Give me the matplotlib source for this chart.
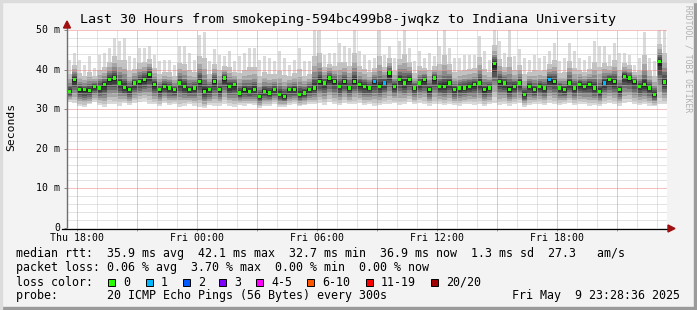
import matplotlib
matplotlib.use("Agg")
import matplotlib.pyplot as plt
from matplotlib.patches import Rectangle, Polygon
import numpy as np

# ---------------- data (ms), 15-minute steps over 30 hours ----------------
start_hour = 17 + 28 / 60 + 36 / 3600      # Thu 17:28:36 (hours since Thu 00:00)
step_hours = 0.25

median_ms = [
    34.5, 37.5, 34.9, 34.9, 34.7, 35.8, 35.4, 36.2, 37.5, 37.9, 36.6, 35.5, 34.9, 36.6, 37.0, 37.5, 38.7, 36.2, 34.9, 35.8,
    35.4, 34.9, 36.6, 35.8, 34.9, 35.4, 37.0, 34.5, 34.9, 37.0, 34.9, 37.9, 35.8, 36.2, 34.1, 34.9, 34.5, 34.9, 33.2, 34.5,
    34.1, 34.9, 33.7, 33.2, 34.9, 34.9, 33.7, 34.1, 34.9, 35.4, 37.0, 36.6, 37.9, 37.0, 35.8, 37.0, 35.4, 37.0, 36.2, 35.8,
    35.4, 37.0, 35.8, 36.6, 39.1, 35.8, 37.5, 36.6, 37.5, 35.4, 36.6, 37.5, 34.9, 37.9, 35.8, 35.8, 36.6, 34.9, 35.4, 35.4,
    35.8, 36.2, 36.6, 34.9, 35.4, 41.5, 37.0, 36.6, 34.9, 35.8, 36.6, 33.7, 35.8, 34.9, 35.8, 35.4, 37.5, 37.0, 35.4, 34.9,
    36.6, 35.4, 36.2, 35.8, 36.2, 35.4, 34.5, 36.6, 37.5, 37.0, 34.9, 38.3, 37.9, 37.0, 35.8, 36.2, 35.4, 33.7, 42.1, 36.9,
]
max_ms = [
    42.5, 44.2, 42.5, 41.2, 43.4, 40.4, 43.8, 44.2, 45.5, 48.0, 47.1, 48.0, 43.4, 43.0, 45.5, 45.5, 45.9, 43.8, 42.1, 42.5,
    42.5, 41.2, 45.9, 45.9, 44.2, 42.5, 48.7, 49.6, 42.1, 45.1, 43.8, 43.4, 44.6, 42.1, 43.4, 44.2, 45.5, 45.5, 42.5, 43.4,
    43.0, 42.1, 44.6, 43.0, 41.2, 42.5, 45.5, 42.1, 42.1, 50.0, 50.0, 43.8, 44.2, 44.2, 46.7, 45.9, 45.5, 50.0, 44.6, 43.8,
    42.5, 43.0, 49.9, 43.8, 45.9, 43.0, 47.1, 50.0, 45.5, 42.1, 44.6, 43.0, 44.2, 43.4, 45.9, 50.0, 45.5, 43.0, 43.0, 43.8,
    43.8, 43.8, 48.4, 44.6, 42.5, 50.0, 47.1, 44.2, 50.0, 43.4, 45.1, 43.0, 42.5, 43.8, 43.0, 43.4, 44.6, 46.7, 42.1, 43.0,
    46.7, 44.6, 43.0, 42.5, 43.4, 47.1, 45.9, 45.9, 43.8, 46.7, 44.2, 44.2, 43.8, 41.2, 43.0, 49.6, 43.0, 42.1, 50.0, 50.0,
]
min_ms = [
    31.9, 31.5, 30.8, 30.5, 31.2, 31.8, 31.0, 30.6, 31.4, 31.2, 30.9, 31.6, 31.0, 31.5, 31.8, 32.0, 31.4, 31.2, 30.8, 31.5,
    31.0, 31.2, 30.5, 30.8, 31.4, 30.9, 30.6, 30.2, 31.0, 30.7, 30.9, 31.3, 30.8, 30.5, 31.1, 30.9, 31.2, 31.0, 30.4, 30.8,
    30.9, 31.2, 30.5, 30.6, 31.0, 31.3, 30.7, 31.0, 31.4, 31.2, 31.5, 31.0, 31.8, 31.3, 31.0, 31.6, 31.2, 31.4, 31.6, 31.0,
    31.2, 30.8, 31.0, 31.4, 31.2, 31.6, 31.0, 31.3, 31.7, 31.2, 31.5, 31.3, 30.9, 31.2, 31.4, 31.0, 31.3, 31.1, 30.9, 31.3,
    31.4, 31.0, 31.2, 30.8, 31.3, 31.6, 31.0, 31.4, 30.9, 31.2, 31.5, 30.6, 31.0, 31.2, 31.4, 31.0, 31.6, 31.3, 31.0, 31.2,
    31.5, 31.0, 31.3, 31.2, 30.9, 31.0, 30.8, 31.4, 31.6, 31.2, 30.9, 31.5, 31.8, 31.3, 31.0, 31.2, 30.9, 30.7, 31.4, 31.2,
]
# lost pings per step (out of 20)
loss_count = [0] * 120
for idx in (61, 63, 96, 107):
    loss_count[idx] = 1

x_tick_hours = [18, 24, 30, 36, 42]
x_tick_labels = ["Thu 18:00", "Fri 00:00", "Fri 06:00", "Fri 12:00", "Fri 18:00"]
y_tick_values = [0, 10, 20, 30, 40, 50]
y_tick_labels = ["0", "10 m", "20 m", "30 m", "40 m", "50 m"]

loss_labels = ["0", "1", "2", "3", "4-5", "6-10", "11-19", "20/20"]
loss_colors = ["#26ff00", "#00b8ff", "#0059ff", "#7e00ff", "#ff00ff", "#ff5500", "#ff0000", "#a10000"]

legend_rtt = "median rtt:  35.9 ms avg  42.1 ms max  32.7 ms min  36.9 ms now  1.3 ms sd  27.3   am/s"
legend_loss = "packet loss: 0.06 % avg  3.70 % max  0.00 % min  0.00 % now"
legend_probe = "probe:       20 ICMP Echo Pings (56 Bytes) every 300s"
legend_date = "Fri May  9 23:28:36 2025"
title = "Last 30 Hours from smokeping-594bc499b8-jwqkz to Indiana University"

# ---------------- figure ----------------
W, H = 697, 310
BG = "#f3f3f3"
MONO = "DejaVu Sans Mono"
fig = plt.figure(figsize=(W / 100, H / 100), dpi=100, facecolor=BG)


def fx(px):
    return px / W


def fy(py):
    return 1 - py / H


x0, x1, ytop, ybot = 67, 667, 30, 228
ax = fig.add_axes([fx(x0), fy(ybot), (x1 - x0) / W, (ybot - ytop) / H])
ax.set_facecolor("white")
t = start_hour + step_hours * np.arange(len(median_ms))
ax.set_xlim(start_hour, start_hour + 30)
ax.set_ylim(0, 50)

med = np.array(median_ms)
hi = np.array(max_ms)
lo = np.array(min_ms)

# smoke layers (outer -> inner)
up_frac = [1.0, 0.55, 0.38, 0.27, 0.19, 0.13, 0.08, 0.04]
dn_frac = [1.0, 0.86, 0.72, 0.58, 0.45, 0.33, 0.22, 0.11]
greys = ["#dadada", "#c2c2c2", "#a6a6a6", "#8a8a8a", "#6e6e6e", "#545454", "#3c3c3c", "#242424"]
widths = [0.75, 1.0, 1.0, 1.0, 1.0, 1.0, 1.0, 1.0]
for uf, df, c, wf in zip(up_frac, dn_frac, greys, widths):
    top = med + uf * (hi - med)
    bot = med - df * (med - lo)
    ax.bar(t + step_hours * (1 - wf) / 2, top - bot, bottom=bot, width=step_hours * wf, align="edge",
           color=c, linewidth=0, zorder=2)
ax.bar(t, med - lo, bottom=lo, width=step_hours, align="edge", color="#dadada", linewidth=0, zorder=1.9)

# grid
dot = (0, (1, 1))
for v in np.arange(0, 51, 2):
    if v % 10:
        ax.axhline(v, color="#c8c8c8", lw=0.72, ls=dot, zorder=2.5)
for v in range(10, 51, 10):
    ax.axhline(v, color="#f08080", lw=0.72, ls=dot, zorder=2.6)
for h in range(18, 48):
    if h % 3:
        ax.axvline(h, color="#c8c8c8", lw=0.72, ls=dot, zorder=2.5)
for h in range(18, 48, 3):
    ax.axvline(h, color="#f08080", lw=0.72, ls=dot, zorder=2.6)

# median markers coloured by loss
mcol = [loss_colors[min(c, 3)] if c < 4 else loss_colors[4] for c in loss_count]
ax.scatter(t + step_hours / 2, med, marker="s", s=6, c=mcol, linewidths=0, zorder=4)

# axes styling
for s in ax.spines.values():
    s.set_visible(False)
ax.set_xticks(list(range(18, 48, 3)))
ax.set_xticklabels([])
ax.tick_params(axis="x", length=2.5, width=0.7, color="#f08080", direction="out")
ax.set_yticks(y_tick_values)
ax.set_yticklabels([])
ax.tick_params(axis="y", length=2, width=0.7, color="#888888", direction="out")

fig.patches.append(Rectangle((fx(66.5), fy(228)), 0.8 / W, (228 - 26) / H, transform=fig.transFigure,
                             color="#707070", zorder=5, figure=fig))
fig.lines.append(plt.Line2D([fx(62), fx(670)], [fy(228.5), fy(228.5)], transform=fig.transFigure,
                            color="black", lw=0.9, zorder=5))
fig.patches.append(Polygon([[fx(63.5), fy(28)], [fx(70.5), fy(28)], [fx(67), fy(21)]], closed=True,
                           transform=fig.transFigure, color="#a01010", zorder=6, figure=fig))
fig.patches.append(Polygon([[fx(668), fy(225)], [fx(668), fy(232)], [fx(675), fy(228.5)]], closed=True,
                           transform=fig.transFigure, color="#a01010", zorder=6, figure=fig))

# tick labels
for h, lab in zip(x_tick_hours, x_tick_labels):
    px = x0 + (h - start_hour) / 30 * (x1 - x0)
    fig.text(fx(px), fy(238), lab, family=MONO, fontsize=7.1, ha="center", va="center")
for v, lab in zip(y_tick_values, y_tick_labels):
    py = ybot - v / 50 * (ybot - ytop)
    fig.text(fx(60), fy(py), lab, family=MONO, fontsize=7.1, ha="right", va="center")

fig.text(fx(11), fy(127), "Seconds", family=MONO, fontsize=8.2, rotation=90, ha="center", va="center")
fig.text(fx(348), fy(19), title, family=MONO, fontsize=9.6, ha="center", va="center")
fig.text(fx(688), fy(5), "RRDTOOL / TOBI OETIKER", family=MONO, fontsize=5.8, rotation=-90,
         ha="center", va="top", color="#b0b0b0")

# legend
LFS = 8.4
fig.text(fx(16), fy(254), legend_rtt, family=MONO, fontsize=LFS, ha="left", va="center")
fig.text(fx(16), fy(268), legend_loss, family=MONO, fontsize=LFS, ha="left", va="center")
fig.text(fx(16), fy(282), "loss color:", family=MONO, fontsize=LFS, ha="left", va="center")
box_x = [108, 146, 183, 219, 256, 307, 366, 431]
for bx, lab, c in zip(box_x, loss_labels, loss_colors):
    fig.patches.append(Rectangle((fx(bx), fy(285.5)), 7 / W, 7 / H, transform=fig.transFigure,
                                 facecolor=c, edgecolor="black", lw=0.7, figure=fig))
    fig.text(fx(bx + 15), fy(282), lab, family=MONO, fontsize=LFS, ha="left", va="center")
fig.text(fx(16), fy(296), legend_probe, family=MONO, fontsize=LFS, ha="left", va="center")
fig.text(fx(680), fy(296), legend_date, family=MONO, fontsize=LFS, ha="right", va="center")

# 3D frame
fig.patches.append(Rectangle((fx(694), 0), 3 / W, 1, transform=fig.transFigure, color="#9a9a9a", figure=fig))
fig.patches.append(Rectangle((0, 0), 1, 3 / H, transform=fig.transFigure, color="#9a9a9a", figure=fig))
fig.patches.append(Rectangle((0, 0), 2 / W, 1, transform=fig.transFigure, color="#dcdcdc", figure=fig))
fig.patches.append(Rectangle((0, fy(2)), 1, 2 / H, transform=fig.transFigure, color="#dcdcdc", figure=fig))

fig.savefig("out.png", dpi=100, facecolor=BG)
